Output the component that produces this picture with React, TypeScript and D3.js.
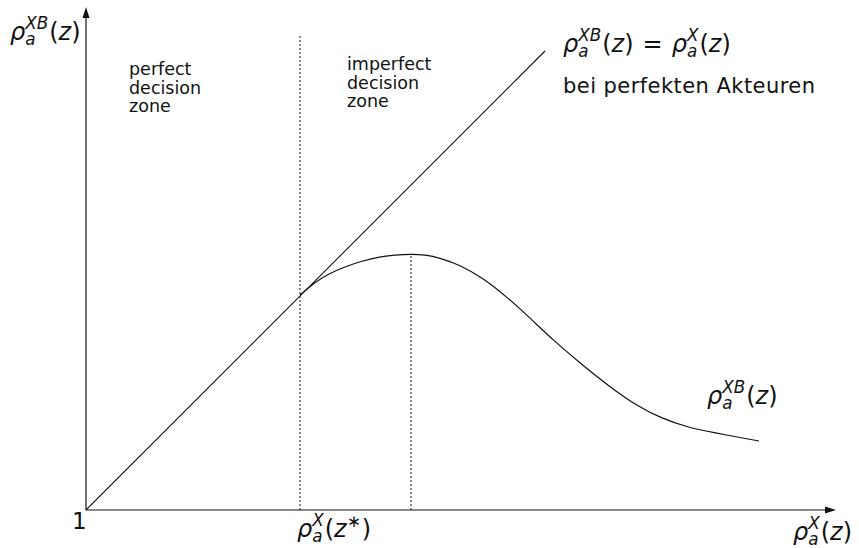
import React from "react";
import * as d3 from "d3";

// Schematic: share of correct decisions vs. difficulty, in axis units (1 unit = 100 px)
const zStar = 2.14;
const diagonalEnd = 4.59;
const zoneDividerTop = 4.75;
const peakX = 3.25;
const peakY = 2.56;

const curveX = [2.14, 2.29, 2.42, 2.59, 2.76, 2.92, 3.09, 3.25, 3.39, 3.54, 3.74, 3.97, 4.21, 4.44, 4.67, 4.94, 5.24, 5.51, 5.77, 6.01, 6.24, 6.73];
const curveY = [2.15, 2.277, 2.36, 2.433, 2.49, 2.53, 2.55, 2.56, 2.552, 2.52, 2.45, 2.32, 2.13, 1.92, 1.7, 1.47, 1.23, 1.04, 0.91, 0.83, 0.78, 0.69];

const zoneLeft = ["perfect", "decision", "zone"];
const zoneRight = ["imperfect", "decision", "zone"];
const diagonalNote = "bei perfekten Akteuren";
const originLabel = "1";

const W = 859;
const H = 548;
const FONT = "'DejaVu Sans', sans-serif";
const INK = "#111";
const MATH = 24;

const x = d3.scaleLinear().domain([0, 7.5]).range([86, 836]);
const y = d3.scaleLinear().domain([0, 5.03]).range([510, 7]);

// ρ with subscript a and a superscript, as tspans inside a <text>
function rhoSpans(size: number, sup: string, key: string, lead = 0) {
  const small = size * 0.7;
  const aW = small * 0.613;
  return [
    <tspan key={key + "r"} fontStyle="italic" dx={lead}>ρ</tspan>,
    <tspan key={key + "a"} fontSize={small} fontStyle="italic" dy={size * 0.2}>a</tspan>,
    <tspan key={key + "s"} fontSize={small} fontStyle="italic" dx={-aW} dy={-size * 0.65}>{sup}</tspan>,
    <tspan key={key + "o"} dy={size * 0.45} dx={1}>(</tspan>,
  ];
}

type MathProps = {
  px: number;
  py: number;
  sup: string;
  star?: boolean;
};

function Rho({ px, py, sup, star }: MathProps) {
  return (
    <text x={px} y={py} fontFamily={FONT} fontSize={MATH} fill={INK}>
      {rhoSpans(MATH, sup, "m")}
      <tspan fontStyle="italic">z</tspan>
      {star ? (
        <>
          <tspan fontSize={MATH * 0.7} dy={-MATH * 0.4}>∗</tspan>
          <tspan dy={MATH * 0.4} dx={1}>)</tspan>
        </>
      ) : (
        <tspan>)</tspan>
      )}
    </text>
  );
}

export default function App() {
  const curvePts: [number, number][] = curveX.map((v, i) => [v, curveY[i]]);
  const line = d3
    .line<[number, number]>()
    .x((d) => x(d[0]))
    .y((d) => y(d[1]))
    .curve(d3.curveBasis);

  const x0 = x(0);
  const y0 = y(0);
  const xEnd = x(7.5);
  const yTop = y(5.03);

  return (
    <svg width={W} height={H} style={{ position: "absolute", left: 0, top: 0 }}>
      <rect width={W} height={H} fill="#fff" />
      {/* axes */}
      <line x1={x0} y1={y0} x2={xEnd - 8} y2={y0} stroke={INK} strokeWidth={1.2} />
      <line x1={x0} y1={y0} x2={x0} y2={yTop + 8} stroke={INK} strokeWidth={1.2} />
      <path d={`M${xEnd},${y0} L${xEnd - 11},${y0 - 3.5} L${xEnd - 11},${y0 + 3.5} Z`} fill={INK} />
      <path d={`M${x0},${yTop} L${x0 - 3.5},${yTop + 11} L${x0 + 3.5},${yTop + 11} Z`} fill={INK} />

      {/* reference diagonal */}
      <line x1={x(0)} y1={y(0)} x2={x(diagonalEnd)} y2={y(diagonalEnd)} stroke={INK} strokeWidth={1.1} />

      {/* dotted guides */}
      <line x1={x(zStar)} y1={y(0)} x2={x(zStar)} y2={y(zoneDividerTop)} stroke={INK} strokeWidth={1} strokeDasharray="2,2" />
      <line x1={x(peakX)} y1={y(0)} x2={x(peakX)} y2={y(peakY)} stroke={INK} strokeWidth={1} strokeDasharray="2,2" />

      {/* actual curve */}
      <path d={line(curvePts) ?? ""} fill="none" stroke={INK} strokeWidth={1.2} />

      {/* zone labels */}
      <text fontFamily={FONT} fontSize={17.5} fill={INK}>
        {zoneLeft.map((t, i) => (
          <tspan key={i} x={129} y={75 + i * 18.5}>{t}</tspan>
        ))}
      </text>
      <text fontFamily={FONT} fontSize={17.5} fill={INK}>
        {zoneRight.map((t, i) => (
          <tspan key={i} x={347} y={70 + i * 18.5}>{t}</tspan>
        ))}
      </text>

      {/* math labels */}
      <Rho px={10} py={40} sup="XB" />
      <text x={563} y={52} fontFamily={FONT} fontSize={MATH} fill={INK}>
        {rhoSpans(MATH, "XB", "l")}
        <tspan fontStyle="italic">z</tspan>
        <tspan>)</tspan>
        <tspan dx={9}>=</tspan>
        {rhoSpans(MATH, "X", "r", 9)}
        <tspan fontStyle="italic">z</tspan>
        <tspan>)</tspan>
      </text>
      <text x={563} y={93} fontFamily={FONT} fontSize={21} fill={INK} textLength={252} lengthAdjust="spacing">
        {diagonalNote}
      </text>
      <Rho px={707} py={404} sup="XB" />
      <Rho px={297} py={537} sup="X" star />
      <Rho px={793} py={540} sup="X" />
      <text x={72} y={529} fontFamily={FONT} fontSize={23} fill={INK}>{originLabel}</text>
    </svg>
  );
}
